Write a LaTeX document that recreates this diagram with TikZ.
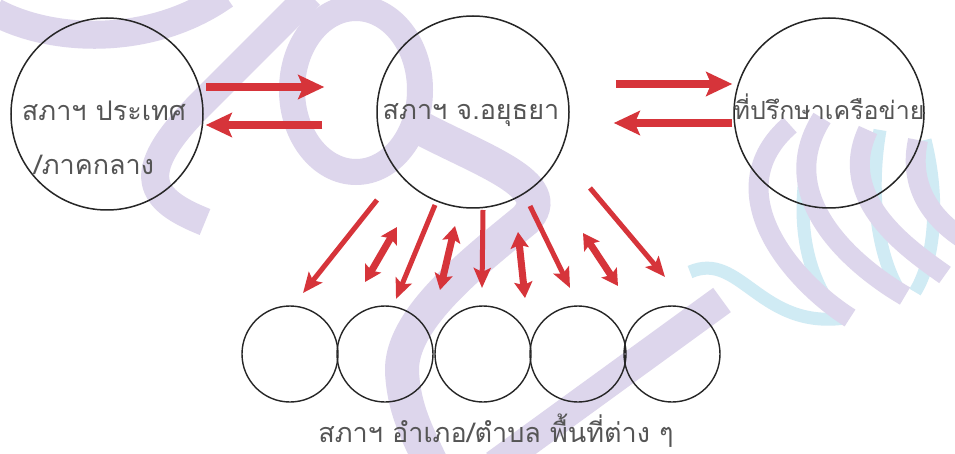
\documentclass[tikz,border=0pt]{standalone}
\usepackage{fontspec}
\newfontfamily\thai[Script=Thai]{Loma}
\usetikzlibrary{arrows.meta,calc}
\definecolor{wmP}{RGB}{221,214,236}
\definecolor{wmC}{RGB}{208,235,244}
\definecolor{arrred}{RGB}{214,52,58}
\definecolor{txtgray}{RGB}{85,85,85}
\tikzset{
  bigc/.style={circle, draw=black!85, line width=1.5pt, minimum size=192pt, inner sep=0pt},
  smallc/.style={circle, draw=black!85, line width=1.4pt, minimum size=96pt, inner sep=0pt},
  lbl/.style={text=txtgray, font=\thai\fontsize{27}{32}\selectfont, inner sep=0pt, anchor=base},
  harr/.style={draw=arrred, line width=8pt, -{Stealth[length=26pt,width=24pt,inset=5pt]}},
  sarr/.style={draw=arrred, line width=5pt, -{Stealth[length=20pt,width=17pt,inset=4pt]}},
  darr/.style={draw=arrred, line width=7pt, {Stealth[length=16pt,width=18pt,inset=3pt]}-{Stealth[length=16pt,width=18pt,inset=3pt]}},
  wm/.style={line width=#1, line cap=butt},
}
\begin{document}
\begin{tikzpicture}[x=1pt,y=-1pt]
\clip (0,0) rectangle (955,454);
\fill[white] (0,0) rectangle (955,454);
% watermark
\draw[wmP, wm=28pt] (-5,12) .. controls (50,42) and (150,48) .. (225,-5);
\draw[wmP, wm=28pt] (310,-5) -- (200,105) .. controls (130,175) and (150,200) .. (205,222);
\draw[wmP, wm=26pt] (356,90) ellipse [x radius=64pt, y radius=82pt];
\draw[wmP, wm=34pt] (415,125) .. controls (480,160) and (560,185) .. (525,220) .. controls (470,265) and (400,320) .. (402,372) .. controls (404,410) and (418,435) .. (432,465);
\draw[wmP, wm=30pt] (722,300) -- (495,465);
\draw[wmC, wm=13pt] (690,272) .. controls (740,250) and (760,330) .. (845,318);
\draw[wmC, wm=13pt] (815,130) .. controls (795,200) and (800,260) .. (830,305);
\draw[wmC, wm=13pt] (880,130) .. controls (868,200) and (880,260) .. (900,292);
\draw[wmC, wm=13pt] (925,140) .. controls (940,200) and (935,260) .. (915,292);
\draw[wmP, wm=20pt] (790,125) .. controls (715,190) and (790,280) .. (850,318);
\draw[wmP, wm=20pt] (822,118) .. controls (770,200) and (860,270) .. (905,296);
\draw[wmP, wm=20pt] (868,130) .. controls (835,200) and (910,250) .. (945,275);
\draw[wmP, wm=20pt] (918,140) .. controls (905,200) and (950,230) .. (965,240);
% circles
\node[bigc] (L) at (107,114) {};
\node[bigc] (C) at (473,112) {};
\node[bigc, minimum size=190pt] (R) at (829,113) {};
\node[smallc] (b1) at (290,354) {};
\node[smallc] (b2) at (385,354) {};
\node[smallc] (b3) at (483,354) {};
\node[smallc] (b4) at (578,354) {};
\node[smallc] (b5) at (672,354) {};
% labels
\node[lbl] (Lt1) at (104,121) {สภาฯ ประเทศ};
\node[lbl] (Lt2) at (94,175) {/ภาคกลาง};
\node[lbl] (Ct) at (471,120) {สภาฯ จ.อยุธยา};
\node[lbl, font=\thai\fontsize{25}{30}\selectfont] (Rt) at (829,120) {ที่ปรึกษาเครือข่าย};
\node[lbl] (Bt) at (496,442) {สภาฯ อำเภอ/ตำบล พื้นที่ต่าง ๆ};
% horizontal arrows
\draw[harr] ($(L.east)+(2,-27)$) -- ($(C.west)+(-52,-25)$);
\draw[harr] ($(C.west)+(-54,13)$) -- ($(L.east)+(2,11)$);
\draw[harr] ($(C.east)+(46,-28)$) -- ($(R.west)+(-1,-29)$);
\draw[harr] ($(R.west)+(-1,10)$) -- ($(C.east)+(44,11)$);
% arrows to the bottom circles
\draw[sarr] ($(C)+(-96,88)$) -- ($(b1)+(13,-61)$);
\draw[darr] ($(C)+(-76,115)$) -- ($(b2)+(-20,-72)$);
\draw[sarr] ($(C)+(-38,93)$) -- ($(b2)+(11,-55)$);
\draw[darr] ($(C)+(-18,114)$) -- ($(b3)+(-43,-64)$);
\draw[sarr] ($(C)+(10,98)$) -- ($(b3)+(-1,-66)$);
\draw[darr] ($(C)+(45,120)$) -- ($(b4)+(-53,-56)$);
\draw[sarr] ($(C)+(57,94)$) -- ($(b4)+(-8,-66)$);
\draw[darr] ($(C)+(110,121)$) -- ($(b5)+(-54,-68)$);
\draw[sarr] ($(C)+(117,76)$) -- ($(b5)+(-7,-77)$);
\end{tikzpicture}
\end{document}
